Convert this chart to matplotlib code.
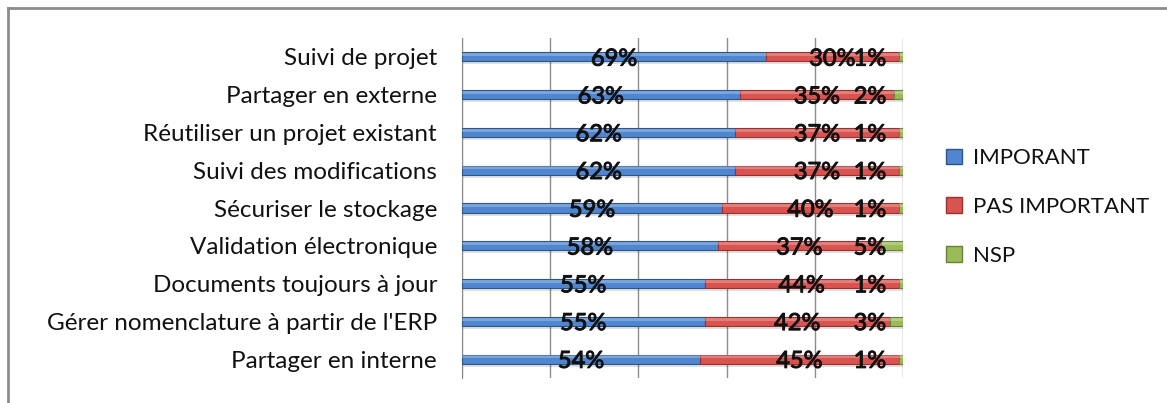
import numpy as np
import matplotlib.pyplot as plt
import matplotlib.patheffects as pe
from matplotlib.lines import Line2D
from matplotlib.patches import Patch

categories = ["Suivi de projet", "Partager en externe", "Réutiliser un projet existant",
              "Suivi des modifications", "Sécuriser le stockage", "Validation électronique",
              "Documents toujours à jour", "Gérer nomenclature à partir de l'ERP",
              "Partager en interne"]
important = [69, 63, 62, 62, 59, 58, 55, 55, 54]
pas_important = [30, 35, 37, 37, 40, 37, 44, 42, 45]
nsp = [1, 2, 1, 1, 1, 5, 1, 3, 1]
series_names = ["IMPORANT", "PAS IMPORTANT", "NSP"]

plt.rcParams['font.family'] = ['Lato', 'DejaVu Sans']

fig = plt.figure(figsize=(11.67, 4.03), dpi=100)
ax = fig.add_axes([462/1167, 1-378/403, 441/1167, 340/403])

y = np.arange(len(categories))
h = 0.24
colors = ["#4f86cf", "#d9534f", "#9bbb59"]
dark = ["#2c5588", "#983230", "#67803a"]

left = np.zeros(len(categories))
for vals, c, d in zip([important, pas_important, nsp], colors, dark):
    vals = np.array(vals, dtype=float)
    # shadow under the bar
    ax.barh(y + 0.08, vals, left=left, height=h, color="#000000", alpha=0.12, zorder=2)
    ax.barh(y, vals, left=left, height=h, color=c, edgecolor=d, linewidth=0.8, zorder=3)
    ax.barh(y - h/4, vals, left=left, height=h/3, color="white", alpha=0.25, linewidth=0, zorder=4)
    left += vals

# labels (slightly thickened)
thick = [pe.withStroke(linewidth=0.7, foreground='#111111')]
lbl = dict(fontsize=17, va='center', color='#111111', zorder=5, path_effects=thick)
for i in range(len(categories)):
    ax.text(important[i]/2, y[i] + 0.06, f"{important[i]}%", ha='center', **lbl)
    ax.text(important[i] + pas_important[i]/2, y[i] + 0.06, f"{pas_important[i]}%", ha='center', **lbl)
    ax.text(96.2, y[i] + 0.06, f"{nsp[i]}%", ha='right', **lbl)

ax.set_xlim(0, 100)
ax.set_ylim(len(categories) - 0.5, -0.5)
ax.set_xticks(np.arange(0, 101, 20))
ax.set_xticklabels([])
ax.tick_params(axis='x', length=0)
ax.tick_params(axis='y', length=0, pad=18, labelsize=17.5, labelcolor='#111111')
ax.set_yticks(y)
ax.set_yticklabels(categories)
ax.grid(axis='x', color='#8c8c8c', linewidth=1, zorder=0)
ax.set_axisbelow(True)
for s in ['top', 'right', 'bottom']:
    ax.spines[s].set_visible(False)
ax.spines['left'].set_color('#8c8c8c')

handles = [Patch(facecolor=c, edgecolor=d) for c, d in zip(colors, dark)]
fig.legend(handles, series_names, loc='center left', bbox_to_anchor=(926/1167, 1-207/403),
           frameon=False, fontsize=16, labelspacing=1.3, handlelength=0.7, handleheight=0.7,
           handletextpad=0.5, labelcolor='#111111')

# outer frame
fig.add_artist(Line2D([8/1167, 1], [1-8/403, 1-8/403], color='#8c8c8c', lw=2))
fig.add_artist(Line2D([8/1167, 8/1167], [0, 1-8/403], color='#8c8c8c', lw=2))

fig.savefig("out.png", dpi=100)
